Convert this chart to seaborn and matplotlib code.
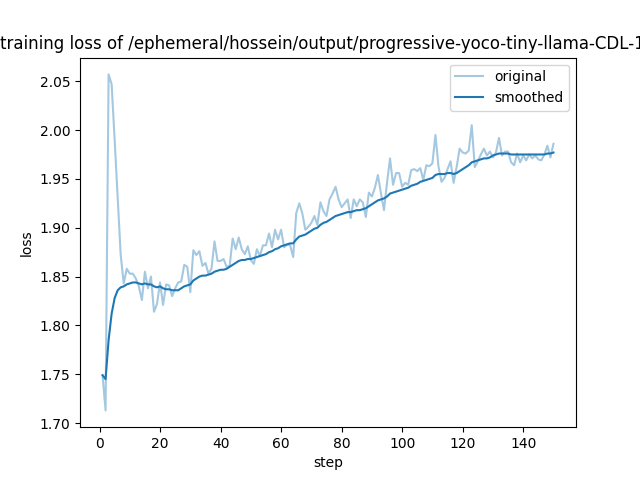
import numpy as np
import pandas as pd
import seaborn as sns
import matplotlib
matplotlib.use("Agg")
import matplotlib.pyplot as plt

title = "training loss of /ephemeral/hossein/output/progressive-yoco-tiny-llama-CDL-16"

original = [
    1.749, 1.713, 2.057, 2.047, 1.990, 1.930, 1.872, 1.843, 1.858, 1.853,
    1.853, 1.848, 1.840, 1.826, 1.855, 1.838, 1.850, 1.814, 1.822, 1.844,
    1.821, 1.842, 1.841, 1.830, 1.838, 1.844, 1.845, 1.862, 1.860, 1.834,
    1.877, 1.872, 1.876, 1.861, 1.864, 1.853, 1.858, 1.886, 1.866, 1.866,
    1.868, 1.860, 1.861, 1.889, 1.878, 1.890, 1.878, 1.873, 1.881, 1.867,
    1.863, 1.878, 1.871, 1.882, 1.882, 1.894, 1.880, 1.898, 1.888, 1.898,
    1.880, 1.883, 1.882, 1.870, 1.915, 1.925, 1.915, 1.898, 1.901, 1.905,
    1.912, 1.903, 1.926, 1.917, 1.912, 1.929, 1.935, 1.942, 1.929, 1.921,
    1.925, 1.929, 1.910, 1.929, 1.922, 1.929, 1.926, 1.911, 1.936, 1.932,
    1.941, 1.954, 1.935, 1.918, 1.946, 1.971, 1.944, 1.956, 1.956, 1.942,
    1.946, 1.944, 1.959, 1.960, 1.958, 1.961, 1.949, 1.964, 1.963, 1.966,
    1.995, 1.963, 1.947, 1.951, 1.960, 1.968, 1.946, 1.962, 1.981, 1.977,
    1.976, 1.979, 2.005, 1.962, 1.968, 1.975, 1.981, 1.974, 1.978, 1.972,
    1.977, 1.992, 1.974, 1.978, 1.978, 1.967, 1.964, 1.976, 1.967, 1.974,
    1.969, 1.975, 1.971, 1.974, 1.970, 1.969, 1.975, 1.984, 1.972, 1.986,
]

smoothed = [
    1.749, 1.745, 1.785, 1.812, 1.828, 1.836, 1.839, 1.840, 1.842, 1.843,
    1.844, 1.844, 1.843, 1.842, 1.843, 1.842, 1.842, 1.840, 1.839, 1.840,
    1.838, 1.837, 1.837, 1.836, 1.836, 1.836, 1.838, 1.840, 1.841, 1.842,
    1.846, 1.848, 1.850, 1.851, 1.851, 1.852, 1.853, 1.855, 1.856, 1.857,
    1.857, 1.858, 1.860, 1.862, 1.864, 1.866, 1.867, 1.867, 1.868, 1.868,
    1.869, 1.870, 1.871, 1.872, 1.873, 1.875, 1.876, 1.878, 1.879, 1.881,
    1.882, 1.883, 1.884, 1.884, 1.888, 1.891, 1.892, 1.893, 1.895, 1.897,
    1.899, 1.900, 1.903, 1.905, 1.906, 1.908, 1.910, 1.912, 1.913, 1.914,
    1.915, 1.916, 1.916, 1.917, 1.918, 1.918, 1.919, 1.920, 1.922, 1.924,
    1.926, 1.928, 1.929, 1.930, 1.932, 1.935, 1.936, 1.937, 1.938, 1.939,
    1.940, 1.941, 1.943, 1.944, 1.945, 1.947, 1.948, 1.949, 1.950, 1.951,
    1.954, 1.955, 1.955, 1.955, 1.956, 1.956, 1.955, 1.956, 1.958, 1.960,
    1.962, 1.964, 1.967, 1.968, 1.969, 1.970, 1.971, 1.971, 1.972, 1.974,
    1.975, 1.976, 1.976, 1.976, 1.976, 1.975, 1.975, 1.975, 1.975, 1.975,
    1.975, 1.975, 1.975, 1.975, 1.975, 1.975, 1.975, 1.976, 1.976, 1.977,
]

steps = list(range(1, len(original) + 1))

df = pd.DataFrame({"step": steps, "original": original, "smoothed": smoothed})

fig, ax = plt.subplots(figsize=(6.4, 4.8), dpi=100)
sns.lineplot(data=df, x="step", y="original", ax=ax, color="C0", alpha=0.4, label="original")
sns.lineplot(data=df, x="step", y="smoothed", ax=ax, color="C0", label="smoothed")
ax.set_xlabel("step")
ax.set_ylabel("loss")
ax.set_title(title)
ax.legend(loc="upper right")
fig.savefig("out.png", dpi=100)
